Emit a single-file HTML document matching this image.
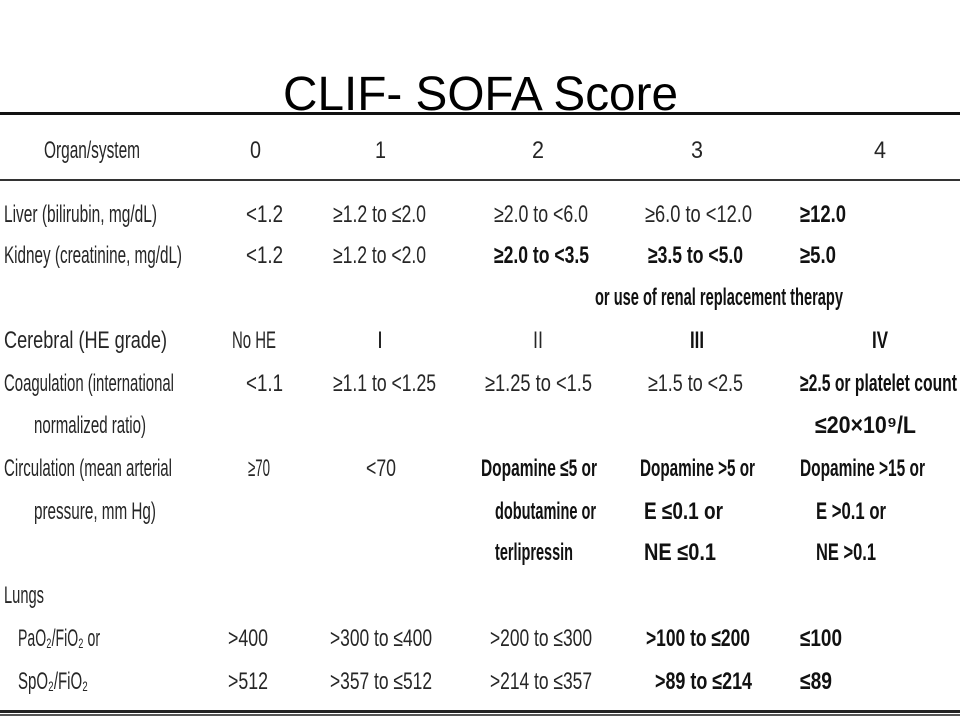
<!DOCTYPE html>
<html><head><meta charset="utf-8"><style>
html,body{margin:0;padding:0;background:#fff;}
svg{display:block;}
text{font-family:"Liberation Sans",sans-serif;fill:#262626;font-size:24px;}
.b{font-weight:bold;fill:#111;}
</style></head><body>
<svg width="960" height="720" viewBox="0 0 960 720">
<text x="283" y="110" textLength="395" lengthAdjust="spacingAndGlyphs" style="font-size:48px;fill:#000">CLIF- SOFA Score</text>
<rect x="0" y="112" width="960" height="3" fill="#111"/>
<rect x="0" y="179" width="960" height="2" fill="#333"/>
<rect x="0" y="710" width="960" height="3" fill="#222"/>
<rect x="0" y="714" width="960" height="2" fill="#555"/>
<g id="cells"></g>
</svg>
<script>
const cells=[
// [text,x1,x2,baseline,bold]
["Organ/system",44,140,158,0],["0",250,261,158,0],["1",375,386,158,0],["2",532,544,158,0],["3",691,703,158,0],["4",874,886,158,0],
["Liver (bilirubin, mg/dL)",4,157,222,0],["<1.2",246,283,222,0],["≥1.2 to ≤2.0",333,426,222,0],["≥2.0 to <6.0",494,588,222,0],["≥6.0 to <12.0",645,752,222,0],["≥12.0",800,846,222,1],
["Kidney (creatinine, mg/dL)",4,182,263,0],["<1.2",246,283,263,0],["≥1.2 to <2.0",333,426,263,0],["≥2.0 to <3.5",494,589,263,1],["≥3.5 to <5.0",648,743,263,1],["≥5.0",800,836,263,1],
["or use of renal replacement therapy",595,843,305,1],
["Cerebral (HE grade)",4,167,348,0],["No HE",232,276,348,0],["I",377,383,348,0],["II",533,543,348,0],["III",690,704,348,1],["IV",872,888,348,1],
["Coagulation (international",4,174,391,0],["<1.1",246,283,391,0],["≥1.1 to <1.25",333,436,391,0],["≥1.25 to <1.5",485,592,391,0],["≥1.5 to <2.5",648,743,391,0],["≥2.5 or platelet count",800,957,391,1],
["normalized ratio)",34,146,433,0],["≤20×10⁹/L",815,916,433,1],
["Circulation (mean arterial",4,172,476,0],["≥70",248,270,476,0],["<70",366,396,476,0],["Dopamine ≤5 or",481,597,476,1],["Dopamine >5 or",640,755,476,1],["Dopamine >15 or",800,925,476,1],
["pressure, mm Hg)",34,156,519,0],["dobutamine or",495,596,519,1],["E ≤0.1 or",644,723,519,1],["E >0.1 or",816,886,519,1],
["terlipressin",495,573,560,1],["NE ≤0.1",644,716,560,1],["NE >0.1",816,876,560,1],
["Lungs",4,44,603,0],
["PaO₂/FiO₂ or",18,100,646,0],[">400",228,268,646,0],[">300 to ≤400",330,432,646,0],[">200 to ≤300",490,592,646,0],[">100 to ≤200",646,750,646,1],["≤100",800,842,646,1],
["SpO₂/FiO₂",18,88,689,0],[">512",228,268,689,0],[">357 to ≤512",330,432,689,0],[">214 to ≤357",490,592,689,0],[">89 to ≤214",655,752,689,1],["≤89",800,832,689,1]
];
const g=document.getElementById('cells');
cells.forEach(c=>{
 const t=document.createElementNS('http://www.w3.org/2000/svg','text');
 
 
 t.setAttribute('x',c[1]);t.setAttribute('y',c[3]);
 t.setAttribute('textLength',c[2]-c[1]);
 t.setAttribute('lengthAdjust','spacingAndGlyphs');
 if(c[4])t.setAttribute('class','b');
 t.textContent=c[0];
 g.appendChild(t);
});
</script>
</body></html>
